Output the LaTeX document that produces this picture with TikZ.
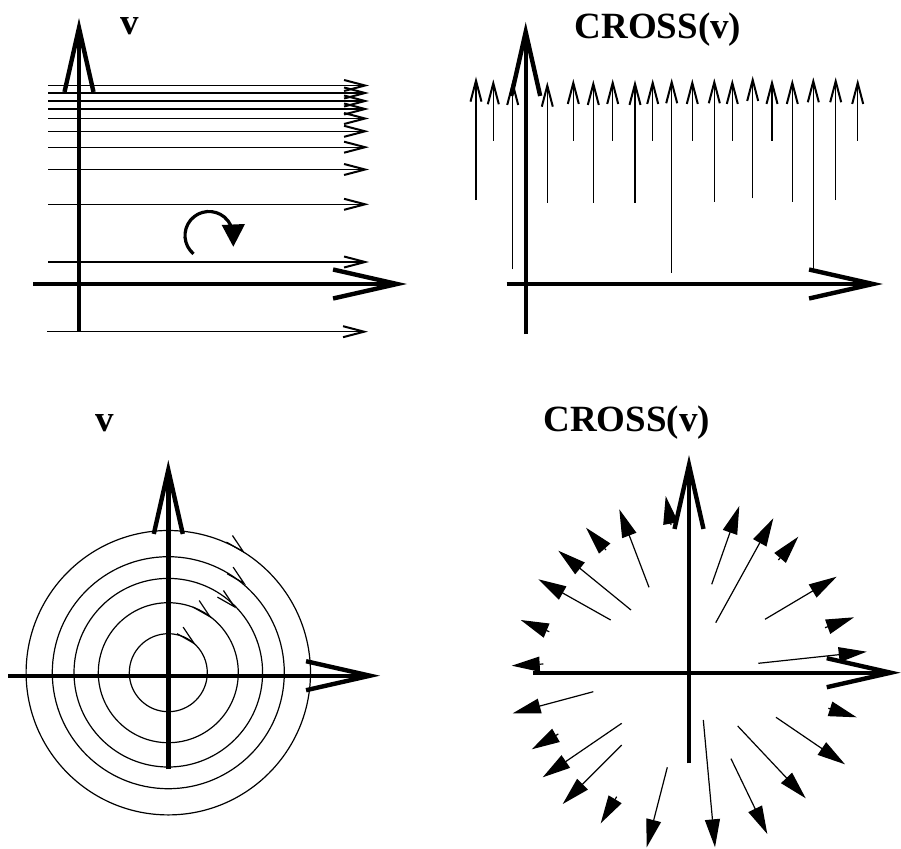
\documentclass[tikz,border=0pt]{standalone}
\usepackage{fontspec}
\setmainfont{Liberation Serif}
\usetikzlibrary{arrows.meta}
\begin{document}
\begin{tikzpicture}[x=1pt,y=-1pt,
  axis/.style={line width=4.4pt,-{Straight Barb[length=64pt,width=29pt]}},
  thinarr/.style={line width=1.2pt,-{Straight Barb[length=21pt,width=11pt,line width=2pt]}},
  fillarr/.style={line width=1.2pt,-{Triangle[length=28pt,width=15pt]}},
  ring/.style={line width=1.2pt},
  lab/.style={font=\fontsize{37}{40}\selectfont\bfseries,inner sep=0pt,anchor=base},
  cbarb/.pic={\draw[line width=1.2pt] (236.2:19.5) -- (0,0) -- (209.6:19.5);}
]
\useasboundingbox (0,0) rectangle (901,848);

% ---------- top left ----------
\foreach \yy in {85.5,93,101,109,118.5,131.3,147.2,169.5,204.3,262}
  \draw[thinarr] (48,\yy) -- (369,\yy);
\draw[thinarr] (47,331.7) -- (368,331.7);
\draw[axis] (79,331.7) -- (79,18);
\draw[axis] (33,284) -- (407,284);
\draw[line width=3.2pt] (209,235.5) ++(130:24) arc[start angle=130,end angle=336,radius=24];
\fill (221.7,225) -- (245,224) -- (233.3,246.7) -- cycle;
\node[lab] (v1) at (130,35) {v};

% ---------- top right ----------
\foreach \xx/\yt/\yb in {476/76.7/200, 493.3/79.3/140.7, 512.7/80/269.3, 547.3/81.7/202.7,
  573.3/79/140.7, 593.3/80/202.7, 612.7/79/140.7, 635/80/202.7, 652.7/79/140.7,
  671.7/78.3/272.7, 692.3/79/140.7, 714.3/78.3/201.7, 732.3/79/140.7, 752.7/76/198.3,
  772/79/140.7, 792.3/79/201.7, 813.3/77.3/270.7, 835.7/77.3/200, 857.7/79/140.7}
  \draw[thinarr] (\xx,\yb) -- (\xx,\yt);
\draw[axis] (525.7,334) -- (525.7,22);
\draw[axis] (506.7,284) -- (883,284);
\node[lab] (c1) at (658,39) {CROSS(v)};

% ---------- bottom left ----------
\foreach \r in {39,70,94.3,116,142.2}
  \draw[ring] (168.3,672.7) circle[radius=\r];
\foreach \p in {(243.3,551.7),(244,583.3),(234.3,606.7),(210,616.7),(194,643.3)}
  \pic at \p {cbarb};
\draw[axis] (168.3,769.3) -- (168.3,460);
\draw[axis] (8.3,675.7) -- (380,675.7);
\node[lab] (v2) at (104.7,431.7) {v};

% ---------- bottom right ----------
\foreach \a/\b in {{(671,525)}/{(665.7,496)}, {(649,587.3)}/{(619.3,509.3)},
  {(606,550)}/{(586,527.7)}, {(631,610)}/{(558.3,550.7)}, {(610.7,620)}/{(538.3,579.3)},
  {(549.3,631.7)}/{(520.7,620)}, {(543.3,664)}/{(511.7,665.7)},
  {(711.7,584.3)}/{(739.3,506)}, {(715.7,622.7)}/{(773.3,518.3)},
  {(778.3,560)}/{(798.3,536.7)}, {(765,619.3)}/{(836.7,576.7)},
  {(825,627.7)}/{(854,617.3)}, {(758.3,663.3)}/{(866.7,651.7)},
  {(593.3,691.7)}/{(512.7,713.3)}, {(558.3,734)}/{(531.7,749.3)},
  {(621.7,723.3)}/{(542.7,777.3)}, {(621.7,745)}/{(562.7,804)},
  {(616.7,796.7)}/{(600.7,823.3)}, {(667.3,767.3)}/{(646.7,847.3)},
  {(703.3,720)}/{(715,847.3)}, {(731,758.7)}/{(767.3,834)},
  {(737.7,726)}/{(805.7,798.3)}, {(776,717.3)}/{(845,764.3)},
  {(828.3,708.3)}/{(856.7,717.3)}}
  \draw[fillarr] \a -- \b;
\draw[axis] (689,763.3) -- (689,455);
\draw[axis] (533.3,672.7) -- (900.7,672.7);
\node[lab] (c2) at (626.7,431.7) {CROSS(v)};
\end{tikzpicture}
\end{document}
